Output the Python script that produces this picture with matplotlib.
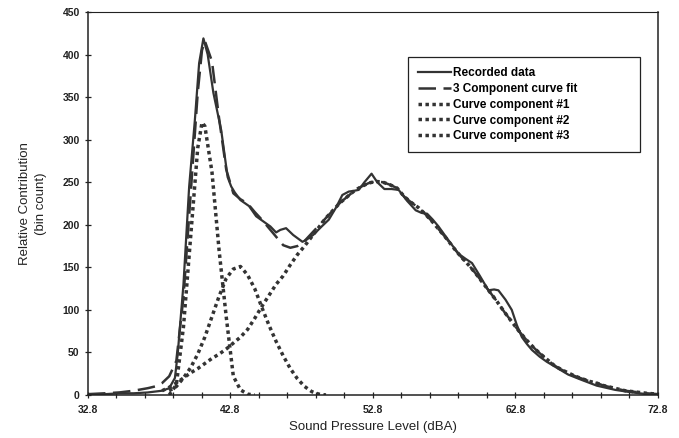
import matplotlib
matplotlib.use("Agg")
import matplotlib.pyplot as plt
from matplotlib.ticker import MultipleLocator, FixedLocator

plt.rcParams['font.family'] = ['Liberation Sans', 'DejaVu Sans']

# recorded histogram (dBA, bin count)
rec_x = [32.8, 34.0, 35.0, 36.0, 37.0, 37.5, 38.0, 38.5, 38.9, 39.1, 39.5, 39.9, 40.3,
         40.6, 40.9, 41.2, 41.6, 42.15, 42.6, 42.85, 43.1, 43.5, 44.1, 44.6, 45.1, 45.6,
         46.0, 46.3, 46.7, 47.2, 47.85, 48.1, 48.6, 49.2, 49.7, 50.2, 50.65, 51.1, 51.5,
         51.8, 52.2, 52.7, 53.1, 53.6, 54.1, 54.6, 55.2, 55.8, 56.2, 56.6, 57.0, 57.4,
         58.0, 58.8, 59.3, 59.75, 60.3, 60.9, 61.3, 61.6, 62.1, 62.54, 62.9, 63.25, 63.6,
         63.95, 64.5, 65.0, 65.6, 66.5, 67.4, 68.5, 69.8, 71.0, 72.0, 72.8]
rec_y = [1, 1, 2, 2, 3, 4, 5, 8, 20, 49, 130, 245, 323,
         390, 419, 400, 355, 311, 256, 245, 238, 229, 222, 210, 204, 198,
         191, 194, 196, 188, 180, 182, 188, 198, 206, 220, 235, 239, 240,
         241, 250, 260, 250, 242, 242, 241, 228, 217, 214, 213, 206, 198,
         184, 166, 160, 155, 140, 123, 124, 123, 112, 100, 82, 68, 60,
         53, 45, 39, 33, 24, 18, 11, 6, 3, 1, 0]

# 3 component fit
fit_x = [32.8, 34.0, 35.0, 36.0, 37.0, 37.5, 38.0, 38.5, 39.0, 39.5, 40.0, 40.5, 40.8,
         41.0, 41.5, 42.0, 42.5, 43.0, 43.5, 44.0, 44.5, 45.0, 45.5, 46.0, 46.5, 47.0,
         47.5, 48.0, 48.5, 49.0, 49.5, 50.0, 50.5, 51.0, 51.5, 52.0, 52.5, 53.0, 53.5,
         54.0, 54.5, 55.0, 55.5, 56.0, 56.5, 57.0, 57.5, 58.0, 58.5, 59.0, 59.5, 60.0,
         60.5, 61.0, 61.5, 62.0, 62.5, 63.0, 63.5, 64.0, 64.5, 65.0, 65.5, 66.0, 66.5,
         67.0, 67.5, 68.0, 68.5, 69.0, 69.5, 70.0, 70.5, 71.0, 71.5, 72.0, 72.8]
fit_y = [1, 2, 3, 5, 8, 10, 14, 22, 40, 115, 235, 355, 405,
         416, 392, 325, 265, 237, 230, 225, 215, 206, 196, 186, 176, 173,
         175, 181, 190, 199, 208, 217, 226, 233, 240, 245, 249, 251, 250,
         247, 243, 233, 226, 220, 212, 203, 193, 183, 172, 162, 153, 143,
         132, 121, 110, 98, 87, 76, 66, 57, 49, 42, 35, 30, 26,
         22, 19, 16, 14, 11, 9, 7, 5, 4, 3, 2, 1]

# component #1
c1_x = [38.5, 39.0, 39.5, 40.0, 40.5, 40.8, 41.0, 41.5, 42.0, 42.5, 43.0, 43.5, 44.0, 44.5]
c1_y = [0, 12, 80, 185, 290, 320, 316, 262, 170, 92, 22, 6, 1, 0]

# component #2
c2_x = [38.5, 39.0, 39.5, 40.0, 40.5, 41.0, 41.5, 42.0, 42.5, 43.0, 43.5, 44.0, 44.5,
        45.0, 45.5, 46.0, 46.5, 47.0, 47.5, 48.0, 48.5, 49.0, 49.5]
c2_y = [5, 10, 20, 32, 48, 68, 92, 116, 137, 148, 151, 141, 125,
        103, 82, 63, 46, 31, 19, 10, 4, 1, 0]

# component #3
c3_x = [38.0, 38.5, 39.0, 39.5, 40.0, 40.5, 41.0, 41.5, 42.0, 42.5, 43.0, 43.5, 44.0,
        44.5, 45.0, 45.5, 46.0, 46.5, 47.0, 47.5, 48.0, 48.5, 49.0, 49.5, 50.0, 50.5,
        51.0, 51.5, 52.0, 52.5, 53.0, 53.5, 54.0, 54.5, 55.0, 55.5, 56.0, 56.5, 57.0,
        57.5, 58.0, 58.5, 59.0, 59.5, 60.0, 60.5, 61.0, 61.5, 62.0, 62.5, 63.0, 63.5,
        64.0, 64.5, 65.0, 65.5, 66.0, 66.5, 67.0, 67.5, 68.0, 68.5, 69.0, 69.5, 70.0,
        70.5, 71.0, 71.5, 72.0, 72.8]
c3_y = [5, 9, 14, 20, 26, 31, 37, 43, 48, 54, 61, 68, 77,
        90, 104, 117, 130, 140, 153, 165, 175, 186, 197, 208, 217, 226,
        233, 240, 245, 249, 251, 250, 247, 243, 233, 226, 220, 212, 203,
        193, 183, 172, 162, 153, 143, 132, 121, 110, 98, 87, 76, 66,
        57, 49, 42, 35, 30, 26, 22, 19, 16, 14, 11, 9, 7,
        5, 4, 3, 2, 1]

xticks = [32.8, 42.8, 52.8, 62.8, 72.8]
xtick_labels = ['32.8', '42.8', '52.8', '62.8', '72.8']

col = '#333333'

fig = plt.figure(figsize=(6.79, 4.38), dpi=100)
ax = fig.add_axes([0.1296, 0.0982, 0.8394, 0.8744])

ax.plot(rec_x, rec_y, color=col, lw=1.6, label='Recorded data')
ax.plot(fit_x, fit_y, color=col, lw=1.8, dashes=(7, 3), label='3 Component curve fit')
ax.plot(c1_x, c1_y, color=col, lw=2.5, dashes=(1.0, 1.0), label='Curve component #1')
ax.plot(c2_x, c2_y, color=col, lw=2.5, dashes=(1.0, 1.0), label='Curve component #2')
ax.plot(c3_x, c3_y, color=col, lw=2.5, dashes=(1.0, 1.0), label='Curve component #3')

ax.set_xlim(32.8, 72.8)
ax.set_ylim(0, 450)
ax.xaxis.set_major_locator(FixedLocator(xticks))
ax.set_xticklabels(xtick_labels)
ax.xaxis.set_minor_locator(FixedLocator([32.8 + 2 * i for i in range(21)]))
ax.yaxis.set_major_locator(MultipleLocator(50))
ax.tick_params(axis='both', which='both', direction='inout', length=5, width=0.9,
               colors='#222222', labelsize=7.5)
ax.tick_params(axis='x', pad=5)
for lab in ax.get_xticklabels() + ax.get_yticklabels():
    lab.set_fontweight('bold')

for sp in ax.spines.values():
    sp.set_color('#222222')
    sp.set_linewidth(1.1)
ax.spines['top'].set_linewidth(0.8)

ax.set_xlabel('Sound Pressure Level (dBA)', fontsize=9.5, color='#222222', labelpad=4)
ax.set_ylabel('Relative Contribution\n(bin count)', fontsize=9.5, color='#222222',
              labelpad=11, linespacing=1.5)

leg = ax.legend(loc='upper left', bbox_to_anchor=(0.561, 0.634, 0.407, 0.249),
                mode='expand', fancybox=False,
                edgecolor='#222222', framealpha=1, handlelength=2.8, handletextpad=0.15,
                borderpad=0.85, labelspacing=0.33, borderaxespad=0,
                prop={'size': 8.5, 'weight': 'bold'})
leg.get_frame().set_linewidth(0.9)
leg._legend_box.align = 'left'

fig.savefig('out.png', dpi=100)
